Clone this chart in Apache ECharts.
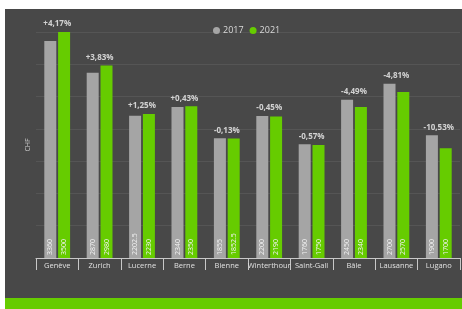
<!DOCTYPE html>
<html>
<head>
<meta charset="utf-8">
<script src="https://cdn.jsdelivr.net/npm/echarts@6/dist/echarts.min.js"></script>
<style>
  html, body { margin: 0; padding: 0; background: #fff; }
  #chart { width: 462px; height: 309px; }
</style>
</head>
<body>
<div id="chart"></div>
<script>
  const cities = ["Genève", "Zurich", "Lucerne", "Berne", "Bienne", "Winterthour", "Saint-Gall", "Bâle", "Lausanne", "Lugano"];
  const values2017 = [3360, 2870, 2202.5, 2340, 1855, 2200, 1760, 2450, 2700, 1900];
  const values2021 = [3500, 2980, 2230, 2350, 1852.5, 2190, 1750, 2340, 2570, 1700];
  const changeLabels = ["+4,17%", "+3,83%", "+1,25%", "+0,43%", "-0,13%", "-0,45%", "-0,57%", "-4,49%", "-4,81%", "-10,53%"];

  const grayColor = "#a5a5a5";
  const greenColor = "#66cc00";
  const font = "Open Sans, Noto Sans, sans-serif";

  const chart = echarts.init(document.getElementById("chart"), null, { renderer: "canvas" });

  const insideLabel = {
    show: true,
    position: "insideBottom",
    rotate: 90,
    align: "left",
    verticalAlign: "middle",
    distance: 3,
    color: "#f2f2f2",
    fontFamily: font,
    fontSize: 7
  };

  chart.setOption({
    animation: false,
    backgroundColor: "#fff",
    graphic: [
      { type: "rect", shape: { x: 5, y: 9, width: 457, height: 289 }, style: { fill: "#484848" }, z: -10 },
      { type: "rect", shape: { x: 5, y: 298, width: 457, height: 11 }, style: { fill: greenColor }, z: -10 }
    ],
    legend: {
      top: 21,
      left: 208,
      itemWidth: 7,
      itemHeight: 7,
      itemGap: 6,
      icon: "circle",
      textStyle: { color: "#d9d9d9", fontFamily: font, fontSize: 9, padding: [0, 0, 0, -2] },
      data: ["2017", "2021"]
    },
    grid: { left: 36, right: 2, top: 32, bottom: 51 },
    xAxis: {
      type: "category",
      data: cities,
      axisLine: { lineStyle: { color: "#c8c8c8", width: 1 } },
      axisTick: { show: true, length: 12, lineStyle: { color: "#c8c8c8" } },
      axisLabel: { color: "#e0e0e0", fontFamily: font, fontSize: 7.5, margin: 4, interval: 0 }
    },
    yAxis: {
      type: "value",
      min: 0,
      max: 3500,
      interval: 500,
      name: "CHF",
      nameLocation: "middle",
      nameGap: 5,
      nameTextStyle: { color: "#cfcfcf", fontFamily: font, fontSize: 7 },
      axisLabel: { show: false },
      axisLine: { show: false },
      axisTick: { show: false },
      splitLine: { lineStyle: { color: "#555555", width: 1 } }
    },
    series: [
      {
        name: "2017",
        type: "bar",
        data: values2017,
        barWidth: 12,
        barGap: "15%",
        itemStyle: { color: grayColor },
        label: insideLabel
      },
      {
        name: "2021",
        type: "bar",
        data: values2021,
        barWidth: 12,
        itemStyle: { color: greenColor },
        label: insideLabel
      },
      {
        name: "change",
        type: "scatter",
        symbolSize: 0,
        silent: true,
        data: cities.map((c, i) => ({
          value: Math.max(values2017[i], values2021[i]),
          label: { formatter: changeLabels[i] }
        })),
        label: {
          show: true,
          position: "top",
          distance: 4,
          color: "#f5f5f5",
          fontFamily: font,
          fontWeight: "bold",
          fontSize: 8
        }
      }
    ]
  });
</script>
</body>
</html>
